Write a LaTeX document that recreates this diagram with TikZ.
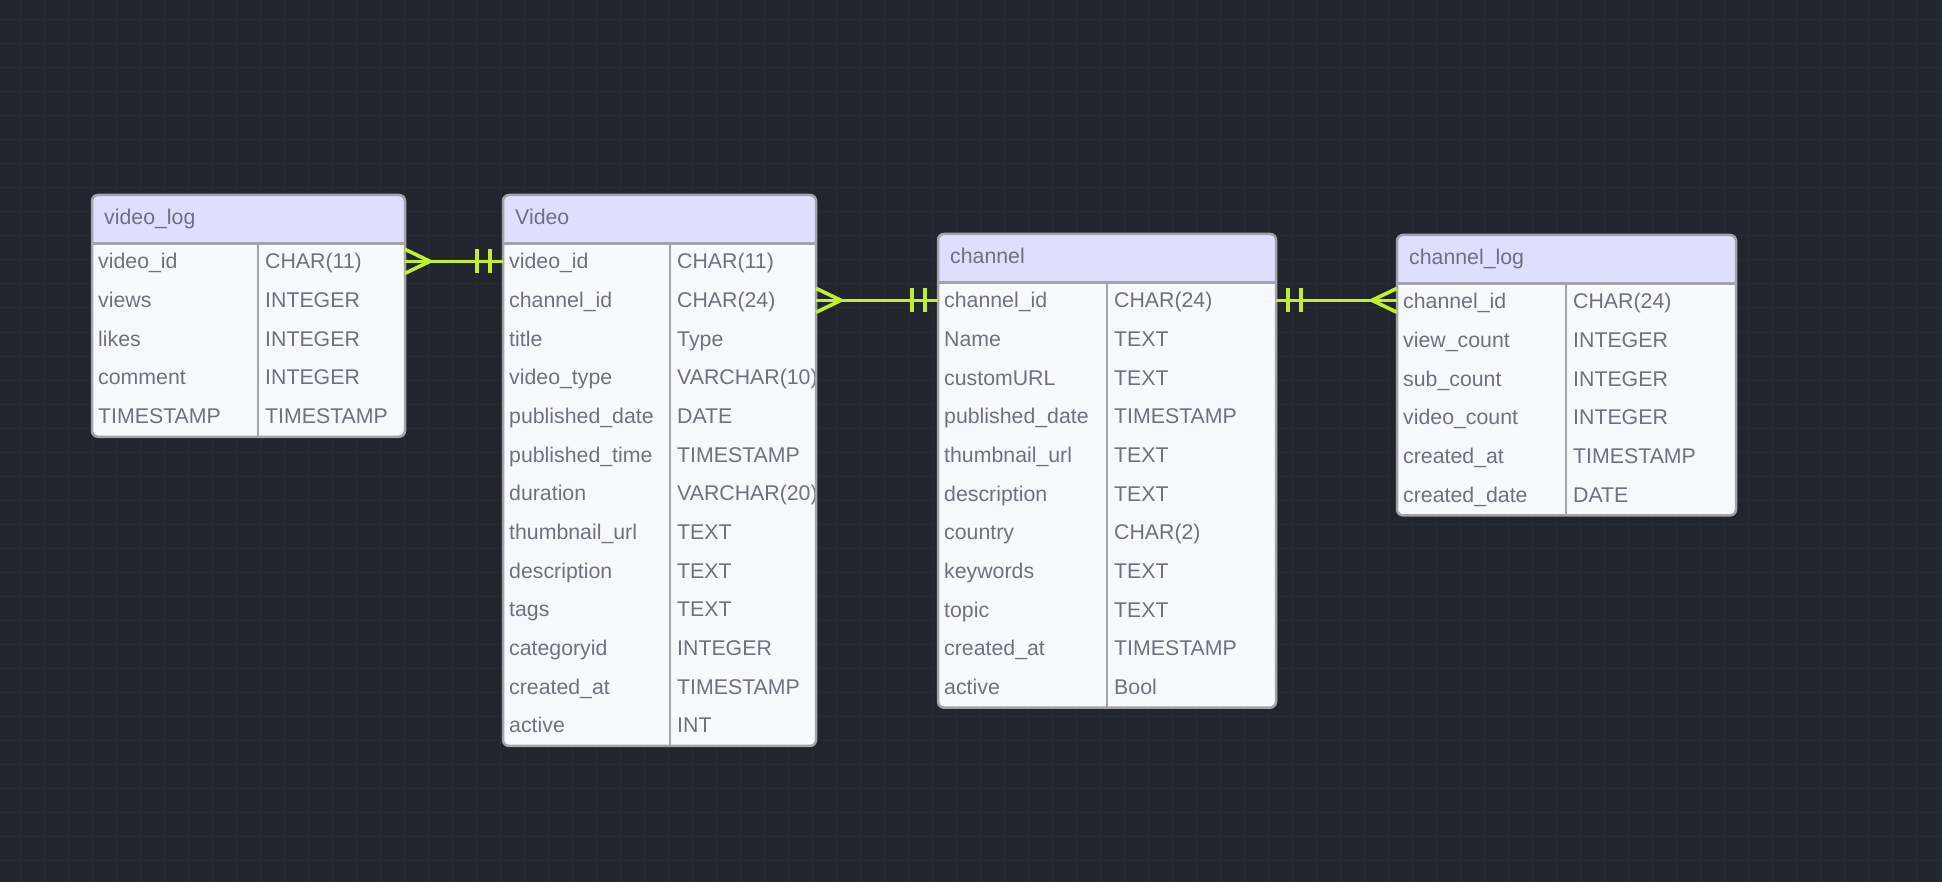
\documentclass[tikz,border=0pt]{standalone}
\usepackage{fontspec}
\setmainfont{Liberation Sans}
\definecolor{bgc}{HTML}{21252D}
\definecolor{gridc}{HTML}{282C34}
\definecolor{hdrc}{HTML}{DEDEFD}
\definecolor{bodyc}{HTML}{F6FAFF}
\definecolor{brdc}{HTML}{A3A3A8}
\definecolor{txtc}{HTML}{6E7280}
\definecolor{relc}{HTML}{BFEF2F}
\newcommand\ertxt{\fontsize{21.3}{25}\selectfont}
\tikzset{
  tbox/.style={fill=bodyc, rounded corners=6pt, inner sep=0pt, outer sep=0pt, anchor=north west},
  tborder/.style={draw=brdc, line width=2.5pt},
  fname/.style={anchor=west, inner sep=0pt, text=txtc, font=\ertxt, text height=15.2pt, text depth=0pt},
  rel/.style={draw=relc, line width=3.6pt},
  crowR/.pic={\draw[rel] (0,-12) -- (25,0) -- (0,12);},
  crowL/.pic={\draw[rel] (0,-12) -- (-25,0) -- (0,12);},
  barsL/.pic={\draw[rel] (-13,-12) -- (-13,12) (-26,-12) -- (-26,12);},
  barsR/.pic={\draw[rel] (12,-12) -- (12,12) (25,-12) -- (25,12);},
}
% #1 name #2 left #3 top #4 right #5 divider #6 nrows #7 title #8 rows
\newcommand\ertable[8]{%
  \pgfmathsetmacro\erhb{#3+48.5}%
  \pgfmathsetmacro\erbot{\erhb+#6*38.65}%
  \pgfmathsetmacro\erw{#4-#2}%
  \pgfmathsetmacro\erh{\erbot-#3}%
  \node[tbox, minimum width=\erw pt, minimum height=\erh pt] (#1) at (#2,#3) {};
  \begin{scope}
    \clip[rounded corners=6pt] (#2,#3) rectangle (#4,\erbot);
    \fill[hdrc] (#2,#3) rectangle (#4,\erhb);
  \end{scope}
  \node[fname] (#1-title) at (#2+12,#3+21.5) {#7};
  \foreach \n/\t [count=\i] in {#8} {
    \pgfmathsetmacro\ery{\erhb+(\i-0.5)*38.65-1.5}
    \node[fname] (#1-\i) at (#2+6,\ery) {\n};
    \node[fname] (#1-t\i) at (#5+7,\ery) {\t};
  }
  \draw[tborder] (#2,\erhb) -- (#4,\erhb);
  \draw[tborder] (#5,\erhb) -- (#5,\erbot);
  \draw[tborder, rounded corners=6pt] (#1.north west) rectangle (#1.south east);
}
\begin{document}
\begin{tikzpicture}[x=1pt, y=-1pt]
\useasboundingbox (0,0) rectangle (1942,882);
\fill[bgc] (0,0) rectangle (1942,882);
\foreach \g in {20,44,...,1940} {\draw[gridc, line width=1pt] (\g,0) -- (\g,882);}
\foreach \g in {20,44,...,880} {\draw[gridc, line width=1pt] (0,\g) -- (1942,\g);}

\ertable{vl}{92}{195}{405}{258}{5}{video\_log}{
  video\_id/CHAR(11), views/INTEGER, likes/INTEGER, comment/INTEGER, TIMESTAMP/TIMESTAMP}
\ertable{v}{503}{195}{816}{670}{13}{Video}{
  video\_id/CHAR(11), channel\_id/CHAR(24), title/Type, video\_type/VARCHAR(10),
  published\_date/DATE, published\_time/TIMESTAMP, duration/VARCHAR(20),
  thumbnail\_url/TEXT, description/TEXT, tags/TEXT, categoryid/INTEGER,
  created\_at/TIMESTAMP, active/INT}
\ertable{ch}{938}{234}{1276}{1107}{11}{channel}{
  channel\_id/CHAR(24), Name/TEXT, customURL/TEXT, published\_date/TIMESTAMP,
  thumbnail\_url/TEXT, description/TEXT, country/CHAR(2), keywords/TEXT,
  topic/TEXT, created\_at/TIMESTAMP, active/Bool}
\ertable{cl}{1397}{235}{1736}{1566}{6}{channel\_log}{
  channel\_id/CHAR(24), view\_count/INTEGER, sub\_count/INTEGER,
  video\_count/INTEGER, created\_at/TIMESTAMP, created\_date/DATE}

% relations
\coordinate (r1a) at (vl.east |- v-1.west);
\coordinate (r1b) at (v.west |- v-1.west);
\draw[rel] (r1a) -- (r1b);
\path (r1a) pic {crowR};
\path (r1b) pic {barsL};

\coordinate (r2a) at (v.east |- ch-1.west);
\coordinate (r2b) at (ch.west |- ch-1.west);
\draw[rel] (r2a) -- (r2b);
\path (r2a) pic {crowR};
\path (r2b) pic {barsL};

\coordinate (r3a) at (ch.east |- ch-1.west);
\coordinate (r3b) at (cl.west |- ch-1.west);
\draw[rel] (r3a) -- (r3b);
\path (r3a) pic {barsR};
\path (r3b) pic {crowL};
\end{tikzpicture}
\end{document}
